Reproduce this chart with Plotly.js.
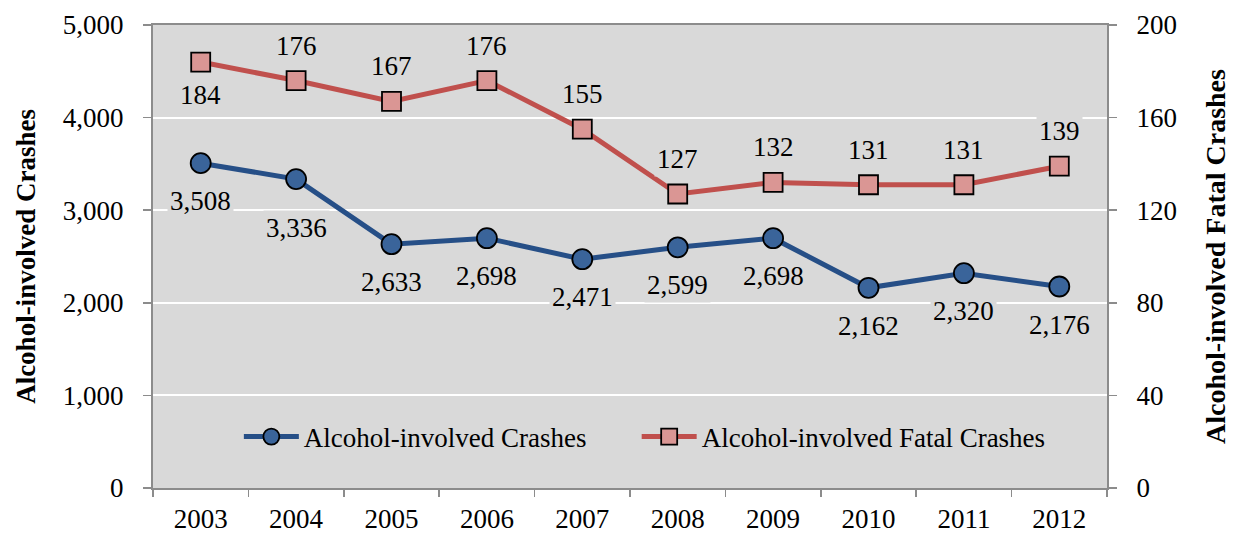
<!DOCTYPE html>
<html>
<head>
<meta charset="utf-8">
<script src="https://cdn.plot.ly/plotly-3.0.1.min.js"></script>
<style>html,body{margin:0;padding:0;background:#fff;}#chart{width:1242px;height:534px;}</style>
</head>
<body>
<div id="chart"></div>
<script>
const years = ["2003","2004","2005","2006","2007","2008","2009","2010","2011","2012"];
const crashes = [3508, 3336, 2633, 2698, 2471, 2599, 2698, 2162, 2320, 2176];
const fatalCrashes = [184, 176, 167, 176, 155, 127, 132, 131, 131, 139];
const leftTicks = [0, 1000, 2000, 3000, 4000, 5000];
const rightTicks = [0, 40, 80, 120, 160, 200];
const seriesNames = ["Alcohol-involved Crashes", "Alcohol-involved Fatal Crashes"];

const FONT = "Liberation Serif, Times New Roman, serif";
const BG = "#d9d9d9";

const traces = [
  {
    x: years, y: crashes, name: seriesNames[0], type: "scatter", mode: "lines+markers",
    line: {color: "#264f87", width: 5},
    marker: {symbol: "circle", size: 20, color: "#3a649a", line: {color: "#000", width: 1.8}},
    yaxis: "y", hoverinfo: "skip", legend: "legend"
  },
  {
    x: years, y: fatalCrashes, name: seriesNames[1], type: "scatter", mode: "lines+markers",
    line: {color: "#c0504d", width: 5},
    marker: {symbol: "square", size: 19, color: "#da9694", line: {color: "#000", width: 1.8}},
    yaxis: "y2", hoverinfo: "skip", legend: "legend2"
  }
];

const fmt = v => v.toLocaleString("en-US");
const annotations = [];
crashes.forEach((v, i) => {
  annotations.push({
    x: i, y: v, xref: "x", yref: "y", text: fmt(v), showarrow: false,
    yshift: i === 1 ? -49 : -38, yanchor: "middle", xanchor: "center",
    bgcolor: BG, borderpad: 2, font: {family: FONT, size: 27, color: "#000"}
  });
});
fatalCrashes.forEach((v, i) => {
  annotations.push({
    x: i, y: v, xref: "x", yref: "y2", text: String(v), showarrow: false,
    yshift: i === 0 ? -33 : 35, yanchor: "middle", xanchor: "center",
    bgcolor: BG, borderpad: 2, font: {family: FONT, size: 27, color: "#000"}
  });
});

const legendBase = {
  orientation: "h", y: 0.11, xanchor: "left", yanchor: "middle",
  bgcolor: "rgba(0,0,0,0)", font: {family: FONT, size: 27, color: "#000"},
  itemwidth: 55
};

const layout = {
  width: 1242, height: 534,
  margin: {l: 153, r: 135, t: 25, b: 46},
  paper_bgcolor: "#fff", plot_bgcolor: BG,
  font: {family: FONT, size: 27, color: "#000"},
  showlegend: true,
  legend: Object.assign({x: 0.09}, legendBase),
  legend2: Object.assign({x: 0.507}, legendBase),
  xaxis: {
    type: "category", range: [-0.5, 9.5], showgrid: false, zeroline: false,
    showline: true, linecolor: "#8c8c8c", linewidth: 2, mirror: true,
    ticks: "outside", tickson: "boundaries", ticklen: 7, tickcolor: "#8c8c8c", tickwidth: 1.5,
    tickfont: {family: FONT, size: 27, color: "#000"}, ticklabelstandoff: 6,
    fixedrange: true
  },
  yaxis: {
    range: [0, 5000], tickvals: leftTicks, ticktext: leftTicks.map(fmt),
    showgrid: true, gridcolor: "#ffffff", gridwidth: 2, zeroline: false,
    showline: true, linecolor: "#8c8c8c", linewidth: 2,
    ticks: "outside", ticklen: 8, tickcolor: "#8c8c8c", tickwidth: 1.5,
    tickfont: {family: FONT, size: 27, color: "#000"}, ticklabelstandoff: 14,
    title: {text: "Alcohol-involved Crashes", font: {family: FONT, size: 27, color: "#000", weight: "bold"}, standoff: 19},
    automargin: false, fixedrange: true
  },
  yaxis2: {
    range: [0, 200], tickvals: rightTicks, overlaying: "y", side: "right",
    showgrid: false, zeroline: false,
    showline: true, linecolor: "#8c8c8c", linewidth: 2,
    ticks: "outside", ticklen: 8, tickcolor: "#8c8c8c", tickwidth: 1.5,
    tickfont: {family: FONT, size: 27, color: "#000"}, ticklabelstandoff: 14,
    title: {text: "Alcohol-involved Fatal Crashes", font: {family: FONT, size: 28, color: "#000", weight: "bold"}, standoff: 29},
    automargin: false, fixedrange: true
  },
  annotations: annotations
};

Plotly.newPlot("chart", traces, layout, {displayModeBar: false, staticPlot: true});
</script>
</body>
</html>
